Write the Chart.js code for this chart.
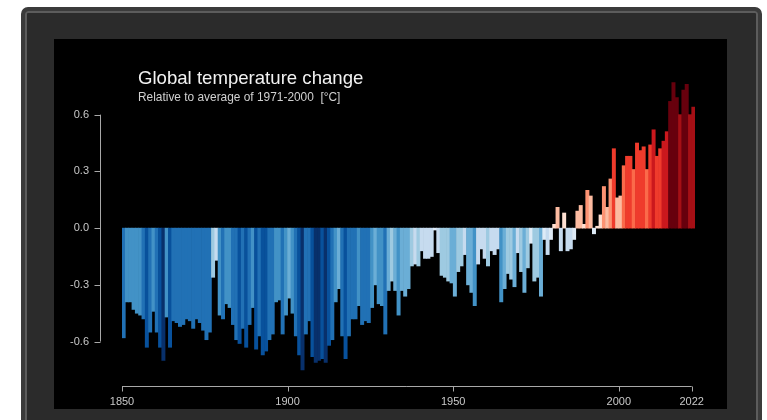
<!DOCTYPE html>
<html>
<head>
<meta charset="utf-8">
<script src="https://cdn.jsdelivr.net/npm/chart.js@4.4.1/dist/chart.umd.min.js"></script>
<style>
  html, body { margin: 0; padding: 0; background: #ffffff; width: 767px; height: 420px; overflow: hidden; }
  #frame {
    position: absolute; left: 21px; top: 7px; width: 733px; height: 430px;
    background: #2b2b2b; border: 4px solid #3b3b3b; border-radius: 7px;
    box-shadow: inset 0 0 0 2px #5c5c5c;
  }
  #panel { position: absolute; left: 54px; top: 39px; width: 673px; height: 370px; background: #000; }
  #stripes { display: block; width: 673px; height: 370px; }
  #title {
    position: absolute; left: 138px; top: 68px; margin: 0;
    font-family: "Liberation Sans", Arial, sans-serif; font-size: 18.6px; line-height: 19px;
    color: #f2f2f2; font-weight: normal; white-space: nowrap;
  }
  #subtitle {
    position: absolute; left: 138px; top: 91px; margin: 0;
    font-family: "Liberation Sans", Arial, sans-serif; font-size: 11.9px; line-height: 12px;
    color: #d0d0d0; white-space: pre;
  }
</style>
</head>
<body>
<div id="frame"></div>
<div id="panel"><canvas id="stripes" width="673" height="370"></canvas></div>
<div id="title">Global temperature change</div>
<div id="subtitle">Relative to average of 1971-2000  [°C]</div>

<script>
// annual global mean temperature anomaly, 1850-2022, relative to 1971-2000 (degC)
const firstYear = 1850;
const anomalies = [
  -0.58, -0.39, -0.39, -0.43, -0.45, -0.46, -0.48, -0.63, -0.55, -0.44,   // 1850s
  -0.55, -0.63, -0.70, -0.47, -0.63, -0.49, -0.50, -0.52, -0.51, -0.48,   // 1860s
  -0.49, -0.53, -0.48, -0.50, -0.54, -0.59, -0.55, -0.26, -0.17, -0.46,   // 1870s
  -0.48, -0.40, -0.42, -0.51, -0.59, -0.61, -0.53, -0.63, -0.51, -0.42,   // 1880s
  -0.64, -0.57, -0.67, -0.65, -0.59, -0.56, -0.39, -0.38, -0.56, -0.46,   // 1890s
  -0.37, -0.45, -0.57, -0.67, -0.75, -0.56, -0.49, -0.68, -0.71, -0.70,   // 1900s
  -0.69, -0.71, -0.62, -0.59, -0.39, -0.32, -0.57, -0.69, -0.57, -0.48,   // 1910s
  -0.48, -0.41, -0.51, -0.49, -0.50, -0.42, -0.30, -0.40, -0.41, -0.56,   // 1920s
  -0.33, -0.28, -0.33, -0.46, -0.33, -0.36, -0.32, -0.20, -0.19, -0.20,   // 1930s
  -0.12, -0.16, -0.16, -0.15, -0.01, -0.13, -0.25, -0.26, -0.28, -0.29,   // 1940s
  -0.36, -0.23, -0.20, -0.14, -0.30, -0.34, -0.41, -0.19, -0.11, -0.16,   // 1950s
  -0.20, -0.12, -0.14, -0.11, -0.39, -0.32, -0.24, -0.27, -0.31, -0.13,   // 1960s
  -0.23, -0.34, -0.21, -0.08, -0.28, -0.26, -0.36, -0.06, -0.14, -0.06,   // 1970s
   0.02,  0.11, -0.12,  0.08, -0.12, -0.11, -0.06,  0.09,  0.12,  0.02,   // 1980s
   0.20,  0.17, -0.03,  0.01,  0.07,  0.22,  0.11,  0.26,  0.42,  0.16,   // 1990s
   0.17,  0.33,  0.38,  0.38,  0.31,  0.45,  0.41,  0.43,  0.31,  0.44,   // 2000s
   0.52,  0.38,  0.42,  0.46,  0.51,  0.67,  0.77,  0.69,  0.60,  0.73,   // 2010s
   0.76,  0.60,  0.64                                                     // 2020s
];
const years = anomalies.map((v, i) => firstYear + i);
const xTicks = [1850, 1900, 1950, 2000, 2022];
const yTicks = [-0.6, -0.3, 0.0, 0.3, 0.6];

// warming stripes palette, coldest to warmest, and the class breaks between them
const stripeColors = [
  '#08306b', '#08519c', '#2171b5', '#4292c6', '#6baed6', '#9ecae1', '#c6dbef', '#deebf7',
  '#fee0d2', '#fcbba1', '#fc9272', '#fb6a4a', '#ef3b2c', '#cb181d', '#a50f15', '#67000d'
];
const colorBreaks = [-0.695, -0.6, -0.475, -0.37, -0.28, -0.19, -0.09, 0,
                     0.09, 0.18, 0.27, 0.36, 0.46, 0.56, 0.66];

function stripeColor(v) {
  const k = colorBreaks.filter(b => v >= b).length;
  return stripeColors[k];
}

const axisColor = '#a8a8a8';
const labelColor = '#c8c8c8';
const labelFont = { family: '"Liberation Sans", Arial, sans-serif', size: 11 };

// R style axes: detached y axis, x axis from first to last tick
const rAxes = {
  id: 'rAxes',
  afterDraw(chart) {
    const ctx = chart.ctx;
    const xs = chart.scales.x, ys = chart.scales.y;
    const area = chart.chartArea;
    ctx.save();
    ctx.strokeStyle = axisColor;
    ctx.lineWidth = 1;
    ctx.beginPath();
    const ax = Math.round(area.left - 22) + 0.5;
    ctx.moveTo(ax, ys.getPixelForValue(yTicks[yTicks.length - 1]));
    ctx.lineTo(ax, ys.getPixelForValue(yTicks[0]));
    yTicks.forEach(t => {
      const py = Math.round(ys.getPixelForValue(t)) + 0.5;
      ctx.moveTo(ax - 6, py);
      ctx.lineTo(ax, py);
    });
    const ay = Math.round(area.bottom) - 0.5;
    ctx.moveTo(xs.getPixelForValue(xTicks[0]), ay);
    ctx.lineTo(xs.getPixelForValue(xTicks[xTicks.length - 1]), ay);
    xTicks.forEach(t => {
      const px = Math.round(xs.getPixelForValue(t)) + 0.5;
      ctx.moveTo(px, ay);
      ctx.lineTo(px, ay + 5);
    });
    ctx.stroke();
    ctx.restore();
  }
};

new Chart(document.getElementById('stripes'), {
  type: 'bar',
  data: {
    datasets: [{
      data: years.map((yr, i) => ({ x: yr + 0.5, y: anomalies[i] })),
      backgroundColor: anomalies.map(stripeColor),
      borderWidth: 0,
      barPercentage: 1,
      categoryPercentage: 1
    }]
  },
  options: {
    responsive: false,
    animation: false,
    devicePixelRatio: 1,
    layout: { autoPadding: false, padding: { left: 0, right: 32, top: 0, bottom: 0 } },
    plugins: { legend: { display: false }, tooltip: { enabled: false } },
    scales: {
      x: {
        type: 'linear',
        offset: false,
        min: 1850,
        max: 2023,
        grid: { display: false, drawTicks: false, tickLength: 0 },
        border: { display: false },
        afterBuildTicks: s => { s.ticks = xTicks.map(v => ({ value: v })); },
        afterFit: s => {
          s.height = 22;
          s.paddingLeft = 0; s.paddingRight = 0; s.paddingTop = 0; s.paddingBottom = 0;
        },
        ticks: {
          color: labelColor, font: labelFont, padding: 8,
          autoSkip: false, maxRotation: 0,
          callback: v => String(v)
        }
      },
      y: {
        offset: false,
        min: -0.84,
        max: 1.0,
        grid: { display: false, drawTicks: false, tickLength: 0 },
        border: { display: false },
        afterBuildTicks: s => { s.ticks = yTicks.map(v => ({ value: v })); },
        afterFit: s => {
          s.width = 68;
          s.paddingLeft = 0; s.paddingRight = 0; s.paddingTop = 0; s.paddingBottom = 0;
        },
        ticks: {
          color: labelColor, font: labelFont, padding: 33,
          callback: v => v.toFixed(1)
        }
      }
    }
  },
  plugins: [rAxes]
});
</script>
</body>
</html>
